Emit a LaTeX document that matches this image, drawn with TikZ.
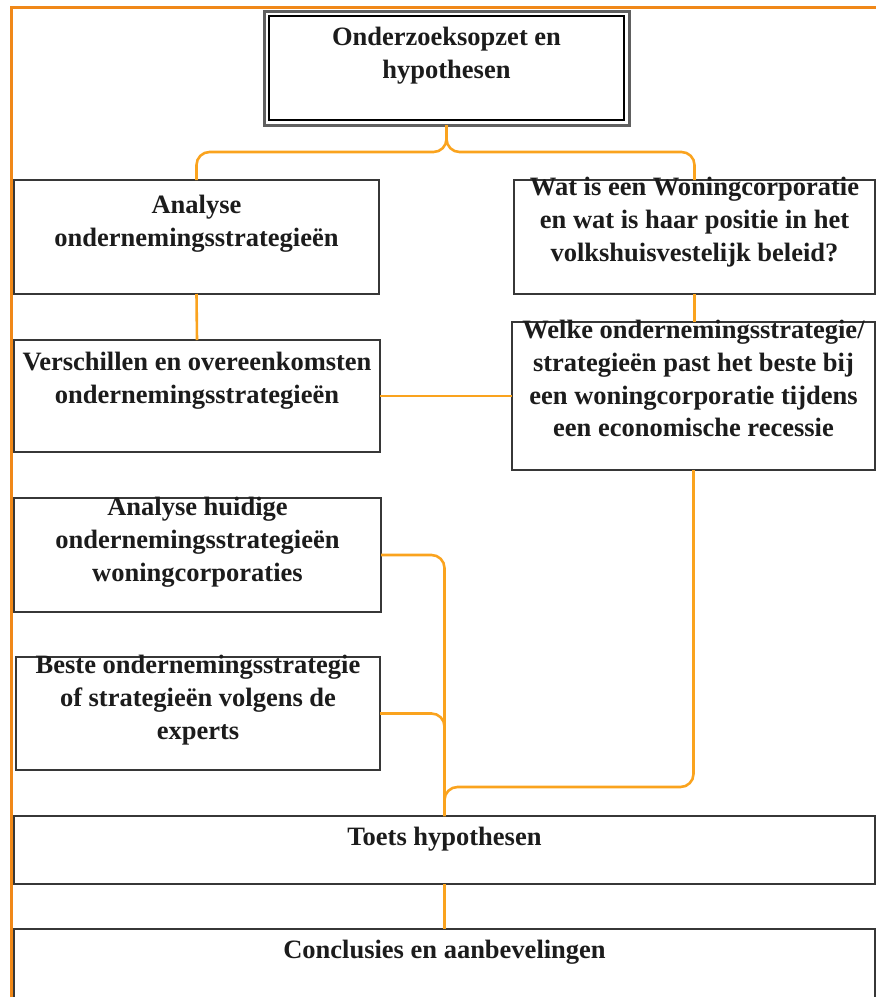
\documentclass[tikz,border=0pt]{standalone}
\usepackage{fontspec}
\setmainfont{Liberation Serif}
\usetikzlibrary{fit,calc}
\definecolor{framecol}{RGB}{240,136,24}
\definecolor{linkcol}{RGB}{250,163,30}
\definecolor{boxline}{RGB}{55,55,55}
\definecolor{inkcol}{RGB}{28,28,28}
\begin{document}
\begin{tikzpicture}[x=1pt,y=-1pt,
  box/.style={draw=boxline, line width=2pt, fill=white, inner sep=0pt, outer sep=0pt},
  boxtext/.style={anchor=north, inner sep=0pt, align=center, text=inkcol,
    font=\fontsize{26.5}{32.8}\selectfont\bfseries,
    execute at begin node=\rule{0pt}{24pt}},
  link/.style={draw=linkcol, line width=2.6pt, rounded corners=13pt}]
\useasboundingbox (0,0) rectangle (876,997);
\begin{scope}
\clip (0,0) rectangle (876,997);
% outer frame
\draw[framecol, line width=3pt] (11,7) rectangle (900,1030);

% boxes
\node[box, draw=gray!75!black, line width=3pt, fit={(264,11) (629,125)}] (top) {};
\draw[black, line width=1.6pt] ($(top.north west)+(5,5)$) rectangle ($(top.south east)+(-5,-5)$);
\node[box, fit={(14,180) (379,294)}] (A) {};
\node[box, fit={(514,180) (875,294)}] (B) {};
\node[box, fit={(14,340) (380,452)}] (C) {};
\node[box, fit={(512,322) (875,470)}] (D) {};
\node[box, fit={(14,498) (381,612)}] (E) {};
\node[box, fit={(16,657) (380,770)}] (F) {};
\node[box, fit={(14,816) (875,884)}] (G) {};
\node[box, fit={(14,929) (875,1020)}] (H) {};

% texts
\node[boxtext] (top-t) at ($(top.north)+(0,16)$) {Onderzoeksopzet en\\hypothesen};
\node[boxtext] (A-t) at ($(A.north)+(0,15)$) {Analyse\\ondernemingsstrategieën};
\node[boxtext] (B-t) at ($(B.north)+(0,-3)$) {Wat is een Woningcorporatie\\en wat is haar positie in het\\volkshuisvestelijk beleid?};
\node[boxtext] (C-t) at ($(C.north)+(0,12)$) {Verschillen en overeenkomsten\\ondernemingsstrategieën};
\node[boxtext] (D-t) at ($(D.north)+(0,-2)$) {Welke ondernemingsstrategie/\\strategieën past het beste bij\\een woningcorporatie tijdens\\een economische recessie};
\node[boxtext] (E-t) at ($(E.north)+(0,-1)$) {Analyse huidige\\ondernemingsstrategieën\\woningcorporaties};
\node[boxtext] (F-t) at ($(F.north)+(0,-2)$) {Beste ondernemingsstrategie\\of strategieën volgens de\\experts};
\node[boxtext] (G-t) at ($(G.north)+(0,5)$) {Toets hypothesen};
\node[boxtext] (H-t) at ($(H.north)+(0,5)$) {Conclusies en aanbevelingen};

% connectors
\coordinate (busT) at (446.5,152);
\coordinate (lvl) at (0,787);
\coordinate (busB) at (G.north |- lvl);
\draw[link] (top.south) -- (busT) -| (A.north);
\draw[link] (top.south) -- (busT) -| (B.north);
\draw[link] (A.south) -- (C.north);
\draw[link] (B.south) -- (B.south |- D.north);
\draw[link] (C.east) -- (C.east -| D.west);
\draw[link] (E.east) -| (G.north);
\draw[link] (F.east) -| (G.north);
\draw[link] (D.south) |- (busB) -- (G.north);
\draw[link] (G.south) -- (H.north);
\end{scope}
\end{tikzpicture}
\end{document}
